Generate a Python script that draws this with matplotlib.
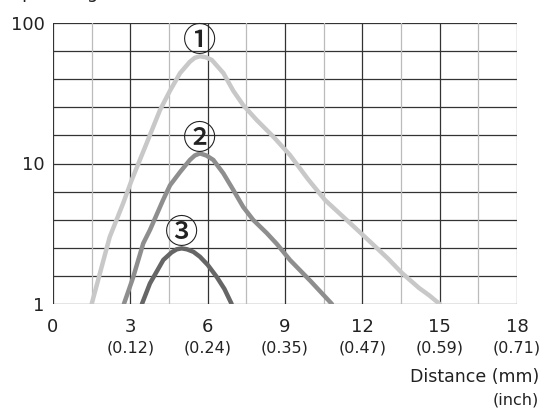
import matplotlib.pyplot as plt

# values (distance in mm, gain on log scale)
x1 = [1.5, 2.2, 2.72, 3.05, 3.63, 4.15, 4.54, 4.93, 5.31, 5.5, 5.7, 5.93, 6.16, 6.61, 6.99, 7.38, 7.9, 8.55, 9.19, 9.9, 10.55, 11.5, 12.37, 13.0, 13.54, 14.2, 14.6, 15.0]
y1 = [1.0, 3.0, 5.2, 7.6, 13.9, 24, 33, 44, 53, 56.5, 58, 57, 54.6, 44, 33, 26, 20.4, 15.5, 11.5, 7.7, 5.5, 3.8, 2.7, 2.1, 1.66, 1.3, 1.15, 1.0]

x2 = [2.75, 3.1, 3.5, 3.76, 4.27, 4.54, 4.93, 5.31, 5.5, 5.7, 5.95, 6.22, 6.61, 6.99, 7.38, 7.77, 8.29, 8.68, 9.19, 10.0, 10.82]
y2 = [1.0, 1.53, 2.7, 3.36, 5.5, 7.0, 8.7, 10.6, 11.4, 11.8, 11.4, 10.6, 8.5, 6.5, 4.9, 3.96, 3.2, 2.68, 2.06, 1.45, 1.0]

x3 = [3.45, 3.76, 4.28, 4.6, 4.8, 4.99, 5.2, 5.45, 5.7, 6.0, 6.35, 6.65, 6.93]
y3 = [1.0, 1.4, 2.06, 2.33, 2.45, 2.49, 2.45, 2.35, 2.17, 1.9, 1.56, 1.28, 1.0]

curve_labels = ['\u2460', '\u2461', '\u2462']
label_x = [5.70, 5.70, 4.99]
label_y = [73.6, 14.7, 3.18]

x_ticks = [0, 3, 6, 9, 12, 15, 18]
inch_labels = ['', '(0.12)', '(0.24)', '(0.35)', '(0.47)', '(0.59)', '(0.71)']
y_ticks = [1, 10, 100]

fig = plt.figure(figsize=(5.44, 4.09), dpi=100)
ax = fig.add_axes([53 / 544, 1 - 304 / 409, 464 / 544, 281 / 409])
ax.set_yscale('log')
ax.set_xlim(0, 18)
ax.set_ylim(1, 100)

# grid: 5 equal log steps per decade, vertical every 1.5 mm
for k in range(11):
    ax.axhline(10 ** (k * 0.2), color='#333333', lw=0.9, zorder=1)
for k in range(13):
    c = '#333333' if k % 2 == 0 else '#bbbbbb'
    if k == 12:
        c = '#777777'
    ax.axvline(k * 1.5, color=c, lw=0.9, zorder=1)

ax.plot(x1, y1, color='#c8c8c8', lw=3.2, solid_capstyle='round', solid_joinstyle='round', zorder=3)
ax.plot(x2, y2, color='#8e8e8e', lw=3.2, solid_capstyle='round', solid_joinstyle='round', zorder=3)
ax.plot(x3, y3, color='#666666', lw=3.2, solid_capstyle='round', solid_joinstyle='round', zorder=3)

for t, lx, ly in zip(curve_labels, label_x, label_y):
    ax.text(lx, ly, t, ha='center', va='center', fontsize=24, fontweight='medium',
            family=['Noto Sans CJK JP', 'DejaVu Sans'], color='#222222', zorder=4)

for s in ax.spines.values():
    s.set_visible(False)
ax.tick_params(length=0)
ax.set_yticks(y_ticks)
ax.set_yticklabels(['1', '10', '100'], fontsize=13, color='#222222')
ax.yaxis.set_minor_locator(plt.NullLocator())
ax.tick_params(axis='y', pad=6)
ax.set_xticks(x_ticks)
ax.set_xticklabels([str(v) for v in x_ticks], fontsize=13, color='#222222')
ax.tick_params(axis='x', pad=10)

tr = ax.get_xaxis_transform()
for v, lab in zip(x_ticks, inch_labels):
    ax.text(v, -0.155, lab, transform=tr, ha='center', va='center',
            fontsize=11.5, color='#222222')

fig.text(539 / 544, 1 - 377 / 409, 'Distance (mm)', ha='right', va='center',
         fontsize=12.5, color='#222222')
fig.text(539 / 544, 1 - 400 / 409, '(inch)', ha='right', va='center',
         fontsize=11.5, color='#222222')
# title cut off at top edge of the original image
fig.text(8 / 544, 1 + 2 / 409, 'Operating reserve', ha='left', va='baseline',
         fontsize=13, color='#222222')

fig.savefig('out.png', dpi=100)
